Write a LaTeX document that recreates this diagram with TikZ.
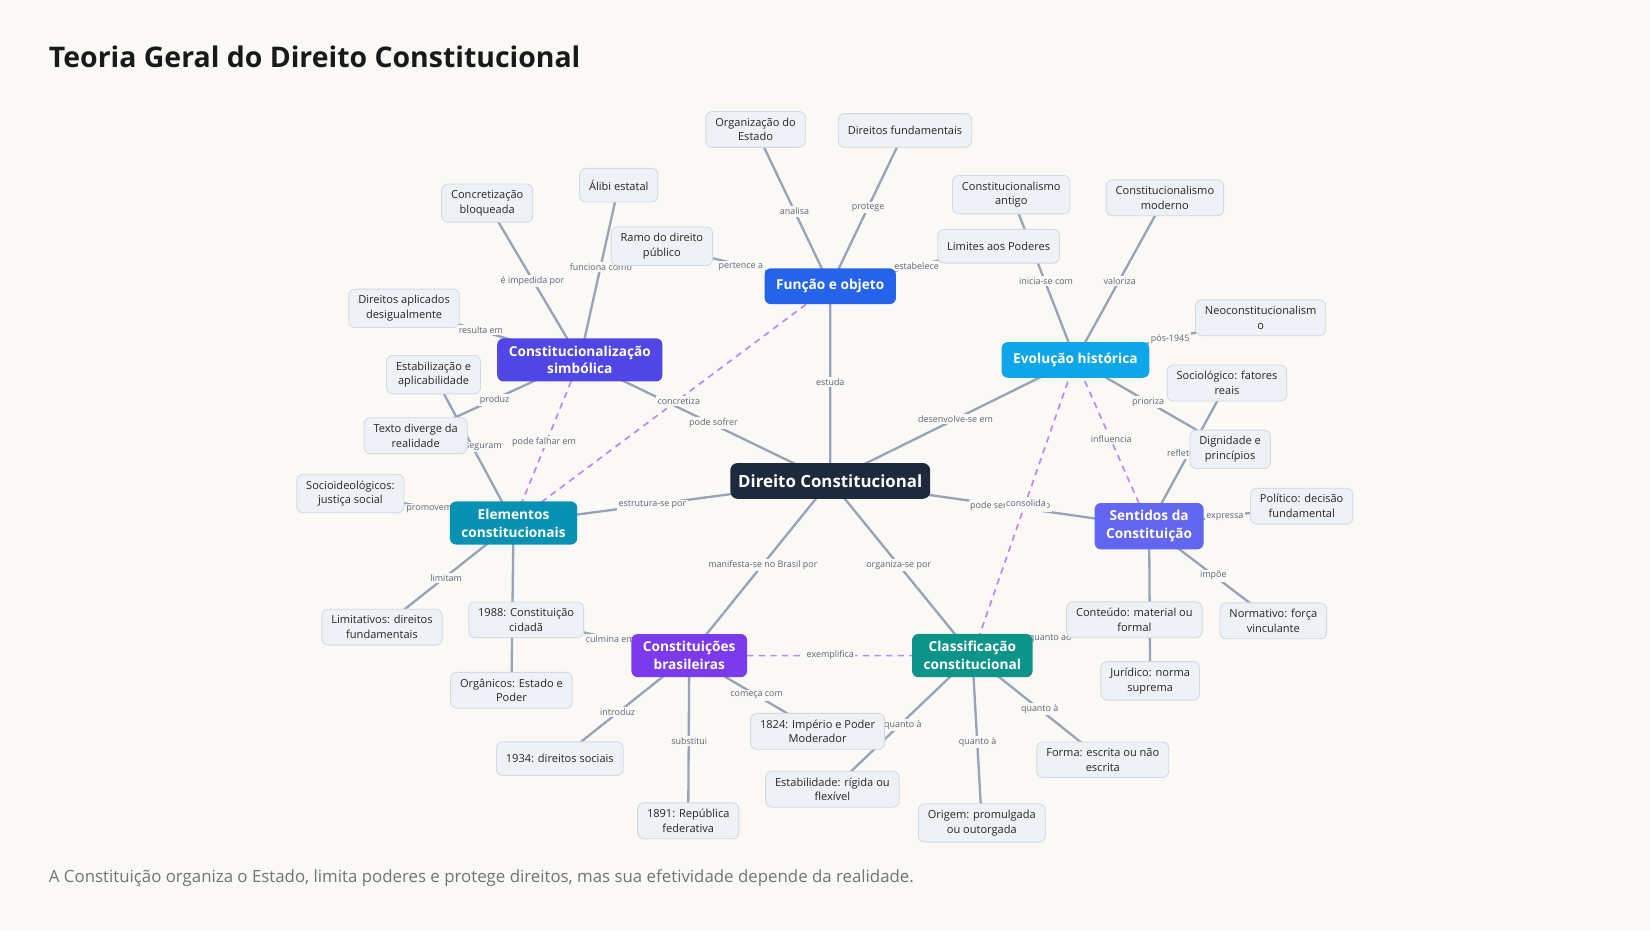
\documentclass[tikz,border=0pt]{standalone}
\usepackage{fontspec}
\setmainfont{Open Sans}
\begin{document}
\definecolor{bg}{HTML}{FAF9F6}
\definecolor{leaf}{HTML}{EEF1F6}
\definecolor{leafb}{HTML}{D3D9E3}
\definecolor{edge}{HTML}{97A3B6}
\definecolor{dash}{HTML}{C084FC}
\definecolor{lab}{HTML}{5B6577}
\definecolor{cC}{HTML}{1E293B}
\definecolor{cF}{HTML}{2563EB}
\definecolor{cE}{HTML}{0EA5E9}
\definecolor{cS}{HTML}{6366F1}
\definecolor{cK}{HTML}{0D9488}
\definecolor{cB}{HTML}{7C3AED}
\definecolor{cL}{HTML}{0891B2}
\definecolor{cY}{HTML}{4F46E5}
\begin{tikzpicture}[x=1pt,y=-1pt,
 leafn/.style={rounded corners=6pt,fill=leaf,draw=leafb,line width=0.8pt,font=\fontsize{10.5}{14}\selectfont,text=black!85,align=center,inner xsep=9pt,inner ysep=6pt,minimum height=32},
 hub/.style={rounded corners=6pt,fill=#1,text=white,font=\fontsize{13}{17}\selectfont\bfseries,align=center,inner xsep=11pt,inner ysep=7pt,minimum height=34},
 e/.style={draw=edge,line width=2.2pt},
 d/.style={draw=dash,line width=1.6pt,dash pattern=on 6pt off 5pt},
 lb/.style={fill=bg,inner sep=1.5pt,font=\fontsize{8.5}{10}\selectfont,text=lab}]
\fill[bg] (0,0) rectangle (1568,884);
\useasboundingbox (0,0) rectangle (1568,884);
\node[anchor=west,font=\fontsize{27}{32}\selectfont\bfseries,text=black!90] at (43,54) {Teoria Geral do Direito Constitucional};
\node[anchor=west,font=\fontsize{16}{20}\selectfont,text=black!55] at (43,834) {A Constituição organiza o Estado, limita poderes e protege direitos, mas sua efetividade depende da realidade.};
% coordinates
\coordinate (pC) at (789,457);
\coordinate (pF) at (789,272);
\coordinate (pE) at (1022,342);
\coordinate (pS) at (1092,500);
\coordinate (pK) at (924,623);
\coordinate (pB) at (655,623);
\coordinate (pL) at (488,497);
\coordinate (pY) at (551,342);
\coordinate (l1) at (718,123); \coordinate (l2) at (860,124); \coordinate (l3) at (961,185);
\coordinate (l4) at (1107,188); \coordinate (l5) at (949,234); \coordinate (l6) at (1198,302);
\coordinate (l7) at (1166,364); \coordinate (l8) at (1169,427); \coordinate (l9) at (1237,481);
\coordinate (l10) at (1078,589); \coordinate (l11) at (1210,590); \coordinate (l12) at (1093,647);
\coordinate (l13) at (1048,722); \coordinate (l14) at (933,782); \coordinate (l15) at (791,750);
\coordinate (l16) at (777,695); \coordinate (l17) at (654,780); \coordinate (l18) at (532,721);
\coordinate (l19) at (486,656); \coordinate (l20) at (500,589); \coordinate (l21) at (363,596);
\coordinate (l22) at (333,469); \coordinate (l23) at (395,414); \coordinate (l24) at (412,356);
\coordinate (l25) at (384,293); \coordinate (l26) at (463,193); \coordinate (l27) at (588,176);
\coordinate (l28) at (629,234);
% edges
\path[e] (pC)--(pF) (pC)--(pE) (pC)--(pS) (pC)--(pK) (pC)--(pB) (pC)--(pL) (pC)--(pY)
 (pF)--(l1) (pF)--(l2) (pF)--(l28) (pF)--(l5)
 (pE)--(l3) (pE)--(l4) (pE)--(l6) (pE)--(l8) (pS)--(l7)
 (pS)--(l9) (pS)--(l11) (pS)--(l12) (pK)--(l10) (pK)--(l13) (pK)--(l14) (pK)--(l15)
 (pB)--(l16) (pB)--(l17) (pB)--(l18) (pB)--(l20)
 (pL)--(l21) (pL)--(l19) (pL)--(l22) (pL)--(l24)
 (pY)--(l26) (pY)--(l27) (pY)--(l25) (pY)--(l23);
\path[d] (pE)--(pS) (pE)--(pK) (pB)--(pK) (pL)--(pF) (pY)--(pL);
% labels
\node[lb] at (789,363) {estuda};
\node[lb] at (908,398) {desenvolve-se em};
\node[lb] at (960,481) {pode ser lido como};
\node[lb] at (854,537) {organiza-se por};
\node[lb] at (725,537) {manifesta-se no Brasil por};
\node[lb] at (620,480) {estrutura-se por};
\node[lb] at (678,402) {pode sofrer};
\node[lb] at (755,201) {analisa};
\node[lb] at (825,197) {protege};
\node[lb] at (704,253) {pertence a};
\node[lb] at (871,253) {estabelece};
\node[lb] at (994,267) {inicia-se com};
\node[lb] at (1064,267) {valoriza};
\node[lb] at (1112,322) {pós-1945};
\node[lb] at (1091,382) {prioriza};
\node[lb] at (1122,431) {reflete};
\node[lb] at (1056,417) {influencia};
\node[lb] at (975,478) {consolida};
\node[lb] at (1164,491) {expressa};
\node[lb] at (1153,547) {impõe};
\node[lb] at (998,607) {quanto ao};
\node[lb] at (988,674) {quanto à};
\node[lb] at (929,705) {quanto à};
\node[lb] at (858,689) {quanto à};
\node[lb] at (789,623) {exemplifica};
\node[lb] at (719,661) {começa com};
\node[lb] at (655,704) {substitui};
\node[lb] at (587,677) {introduz};
\node[lb] at (580,607) {culmina em};
\node[lb] at (424,549) {limitam};
\node[lb] at (408,484) {promovem};
\node[lb] at (455,425) {asseguram};
\node[lb] at (470,380) {produz};
\node[lb] at (517,420) {pode falhar em};
\node[lb] at (645,381) {concretiza};
\node[lb] at (457,314) {resulta em};
\node[lb] at (506,267) {é impedida por};
\node[lb] at (571,254) {funciona como};
% hub nodes
\node[rounded corners=7pt,fill=cC,text=white,font=\fontsize{16}{20}\selectfont\bfseries,minimum width=190,minimum height=34] (C) at (pC) {Direito Constitucional};
\node[hub=cF] (F) at (pF) {Função e objeto};
\node[hub=cE] (E) at (pE) {Evolução histórica};
\node[hub=cS] (S) at (pS) {Sentidos da\\Constituição};
\node[hub=cK] (K) at (pK) {Classificação\\constitucional};
\node[hub=cB] (B) at (pB) {Constituições\\brasileiras};
\node[hub=cL] (L) at (pL) {Elementos\\constitucionais};
\node[hub=cY] (Y) at (pY) {Constitucionalização\\simbólica};
% leaves
\node[leafn] at (l1) {Organização do\\Estado};
\node[leafn] at (l2) {Direitos fundamentais};
\node[leafn] at (l3) {Constitucionalismo\\antigo};
\node[leafn] at (l4) {Constitucionalismo\\moderno};
\node[leafn] at (l5) {Limites aos Poderes};
\node[leafn] at (l6) {Neoconstitucionalism\\o};
\node[leafn] at (l7) {Sociológico: fatores\\reais};
\node[leafn] at (l8) {Dignidade e\\princípios};
\node[leafn] at (l9) {Político: decisão\\fundamental};
\node[leafn] at (l10) {Conteúdo: material ou\\formal};
\node[leafn] at (l11) {Normativo: força\\vinculante};
\node[leafn] at (l12) {Jurídico: norma\\suprema};
\node[leafn] at (l13) {Forma: escrita ou não\\escrita};
\node[leafn] at (l14) {Origem: promulgada\\ou outorgada};
\node[leafn] at (l15) {Estabilidade: rígida ou\\flexível};
\node[leafn] at (l16) {1824: Império e Poder\\Moderador};
\node[leafn] at (l17) {1891: República\\federativa};
\node[leafn] at (l18) {1934: direitos sociais};
\node[leafn] at (l19) {Orgânicos: Estado e\\Poder};
\node[leafn] at (l20) {1988: Constituição\\cidadã};
\node[leafn] at (l21) {Limitativos: direitos\\fundamentais};
\node[leafn] at (l22) {Socioideológicos:\\justiça social};
\node[leafn] at (l23) {Texto diverge da\\realidade};
\node[leafn] at (l24) {Estabilização e\\aplicabilidade};
\node[leafn] at (l25) {Direitos aplicados\\desigualmente};
\node[leafn] at (l26) {Concretização\\bloqueada};
\node[leafn] at (l27) {Álibi estatal};
\node[leafn] at (l28) {Ramo do direito\\público};
\end{tikzpicture}
\end{document}
